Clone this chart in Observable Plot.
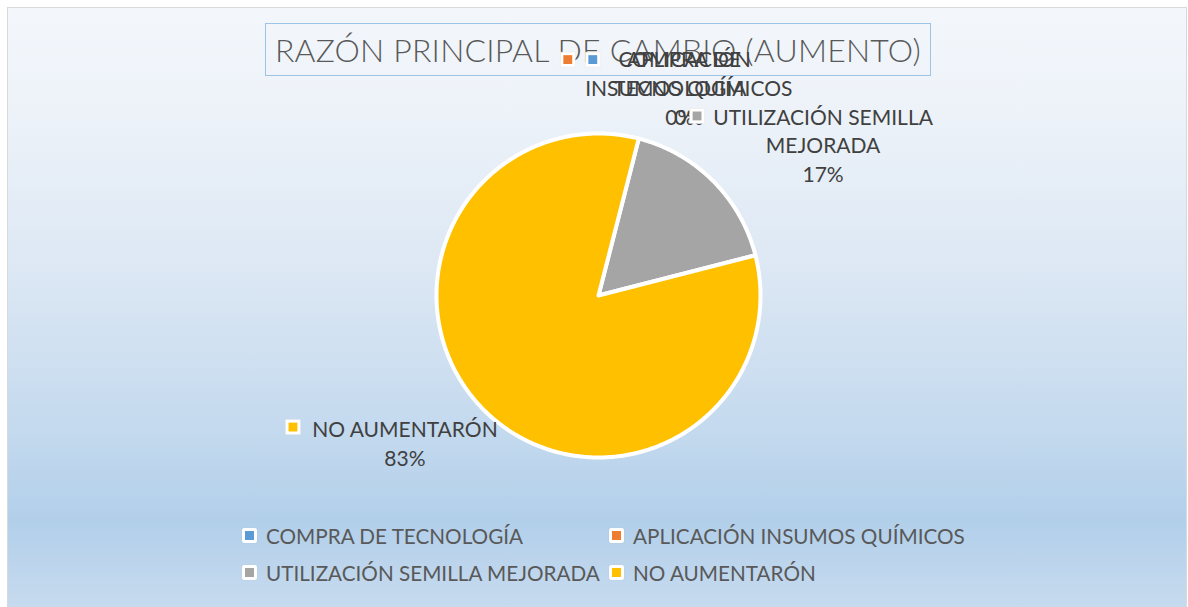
<!DOCTYPE html>
<html>
<head>
<meta charset="utf-8">
<script src="https://cdn.jsdelivr.net/npm/d3@7"></script>
<script src="https://cdn.jsdelivr.net/npm/@observablehq/plot@0.6"></script>
<style>
  html, body { margin: 0; padding: 0; width: 1188px; height: 607px; overflow: hidden; background: #ffffff; }
  #frame {
    position: absolute; left: 7px; top: 7px; width: 1178px; height: 610px;
    border: 1px solid #d9d9d9;
    background: linear-gradient(to bottom, #f3f7fc 0%, #eef3f9 15%, #dde8f4 42%, #c3d9ee 70%, #b2cfea 84%, #c9dcef 100%);
  }
  #title {
    position: absolute; left: 265px; top: 23px; width: 664px; height: 51px;
    border: 1.5px solid #9dc3e6;
    font-family: Lato, "Open Sans", sans-serif; font-weight: 300; font-size: 32px;
    color: #595959; text-align: center; line-height: 51px; letter-spacing: 0.2px;
  }
  #chart { position: absolute; left: 0; top: 0; }
  #legend {
    position: absolute; left: 242px; top: 517px;
    display: grid; grid-template-columns: 367px auto; grid-auto-rows: 37px;
    font-family: Lato, "Open Sans", sans-serif; font-size: 20.7px; color: #595959;
  }
  .item { display: flex; align-items: center; height: 37px; }
  .key { width: 15px; height: 15px; background: #fff; border-radius: 2px; display: flex; align-items: center; justify-content: center; margin-right: 9px; box-shadow: 0 0 1px rgba(0,0,0,0.15); }
  .key span { width: 9px; height: 9px; display: block; }
</style>
</head>
<body>
<div id="frame"></div>
<div id="title">RAZÓN PRINCIPAL DE CAMBIO (AUMENTO)</div>
<div id="chart"></div>
<div id="legend"></div>
<script>
// ---- data ----
const categories = ["COMPRA DE TECNOLOGÍA", "APLICACIÓN INSUMOS QUÍMICOS", "UTILIZACIÓN SEMILLA MEJORADA", "NO AUMENTARÓN"];
const values = [0, 0, 17, 83];
const labelLines = ["COMPRA DE\nTECNOLOGÍA", "APLICACIÓN\nINSUMOS QUÍMICOS", "UTILIZACIÓN SEMILLA\nMEJORADA", "NO AUMENTARÓN"];
const colors = ["#5B9BD5", "#ED7D31", "#A5A5A5", "#FFC000"];
const firstSliceAngleDeg = 14.4;

// ---- layout (label placement offsets, px) ----
const labelLayout = {
  "COMPRA DE TECNOLOGÍA":        {dx: 41,  dy: -92, kdx: -46, kdy: -79},
  "APLICACIÓN INSUMOS QUÍMICOS": {dx: 50,  dy: -92, kdx: -71, kdy: -79},
  "UTILIZACIÓN SEMILLA MEJORADA":{dx: 110, dy: -77, kdx: -16, kdy: -65},
  "NO AUMENTARÓN":               {dx: -79, dy: 6,   kdx: -191, kdy: 17}
};

const data = categories.map((c, i) => ({cat: c, value: values[i], lines: labelLines[i]}));
const total = d3.sum(values);
const a0 = firstSliceAngleDeg * Math.PI / 180;
const arcs = d3.pie().sort(null).value(d => d.value).startAngle(a0).endAngle(a0 + 2 * Math.PI)(data);

const pts = [];
arcs.forEach(a => {
  const n = Math.max(2, Math.ceil((a.endAngle - a.startAngle) / (Math.PI / 360)));
  pts.push({cat: a.data.cat, x: 0, y: 0});
  for (let i = 0; i <= n; i++) {
    const t = a.startAngle + (a.endAngle - a.startAngle) * i / n;
    pts.push({cat: a.data.cat, x: Math.sin(t), y: Math.cos(t)});
  }
});

const labels = arcs.map(a => {
  const m = (a.startAngle + a.endAngle) / 2;
  return {cat: a.data.cat, x: Math.sin(m), y: Math.cos(m),
          text: a.data.lines + "\n" + Math.round(a.data.value / total * 100) + "%"};
});

const font = "Lato, 'Open Sans', sans-serif";
const marks = [
  Plot.line(pts, {x: "x", y: "y", z: "cat", fill: "cat", stroke: "white", strokeWidth: 4, strokeLinejoin: "round", curve: "linear-closed"})
];
labels.forEach(l => {
  const L = labelLayout[l.cat];
  marks.push(Plot.dot([l], {x: "x", y: "y", dx: L.kdx, dy: L.kdy, symbol: "square", r: 8.4, fill: "white", stroke: "#e6e6e6", strokeWidth: 0.5}));
  marks.push(Plot.dot([l], {x: "x", y: "y", dx: L.kdx, dy: L.kdy, symbol: "square", r: 5, fill: "cat"}));
  marks.push(Plot.text([l], {x: "x", y: "y", dx: L.dx, dy: L.dy, text: "text", textAnchor: "middle", lineAnchor: "top",
    lineHeight: 1.38, fontSize: 21, fill: "#404040", fontFamily: font}));
});

const chart = Plot.plot({
  width: 1188, height: 607, margin: 0,
  style: {background: "transparent", fontFamily: font},
  x: {domain: [-1, 1], range: [436, 760], axis: null},
  y: {domain: [-1, 1], range: [457, 133], axis: null},
  color: {domain: categories, range: colors, legend: false},
  marks
});
document.getElementById("chart").appendChild(chart);

// ---- legend ----
const legend = document.getElementById("legend");
categories.forEach((c, i) => {
  const item = document.createElement("div");
  item.className = "item";
  item.innerHTML = `<div class="key"><span style="background:${colors[i]}"></span></div><div>${c}</div>`;
  legend.appendChild(item);
});
</script>
</body>
</html>
